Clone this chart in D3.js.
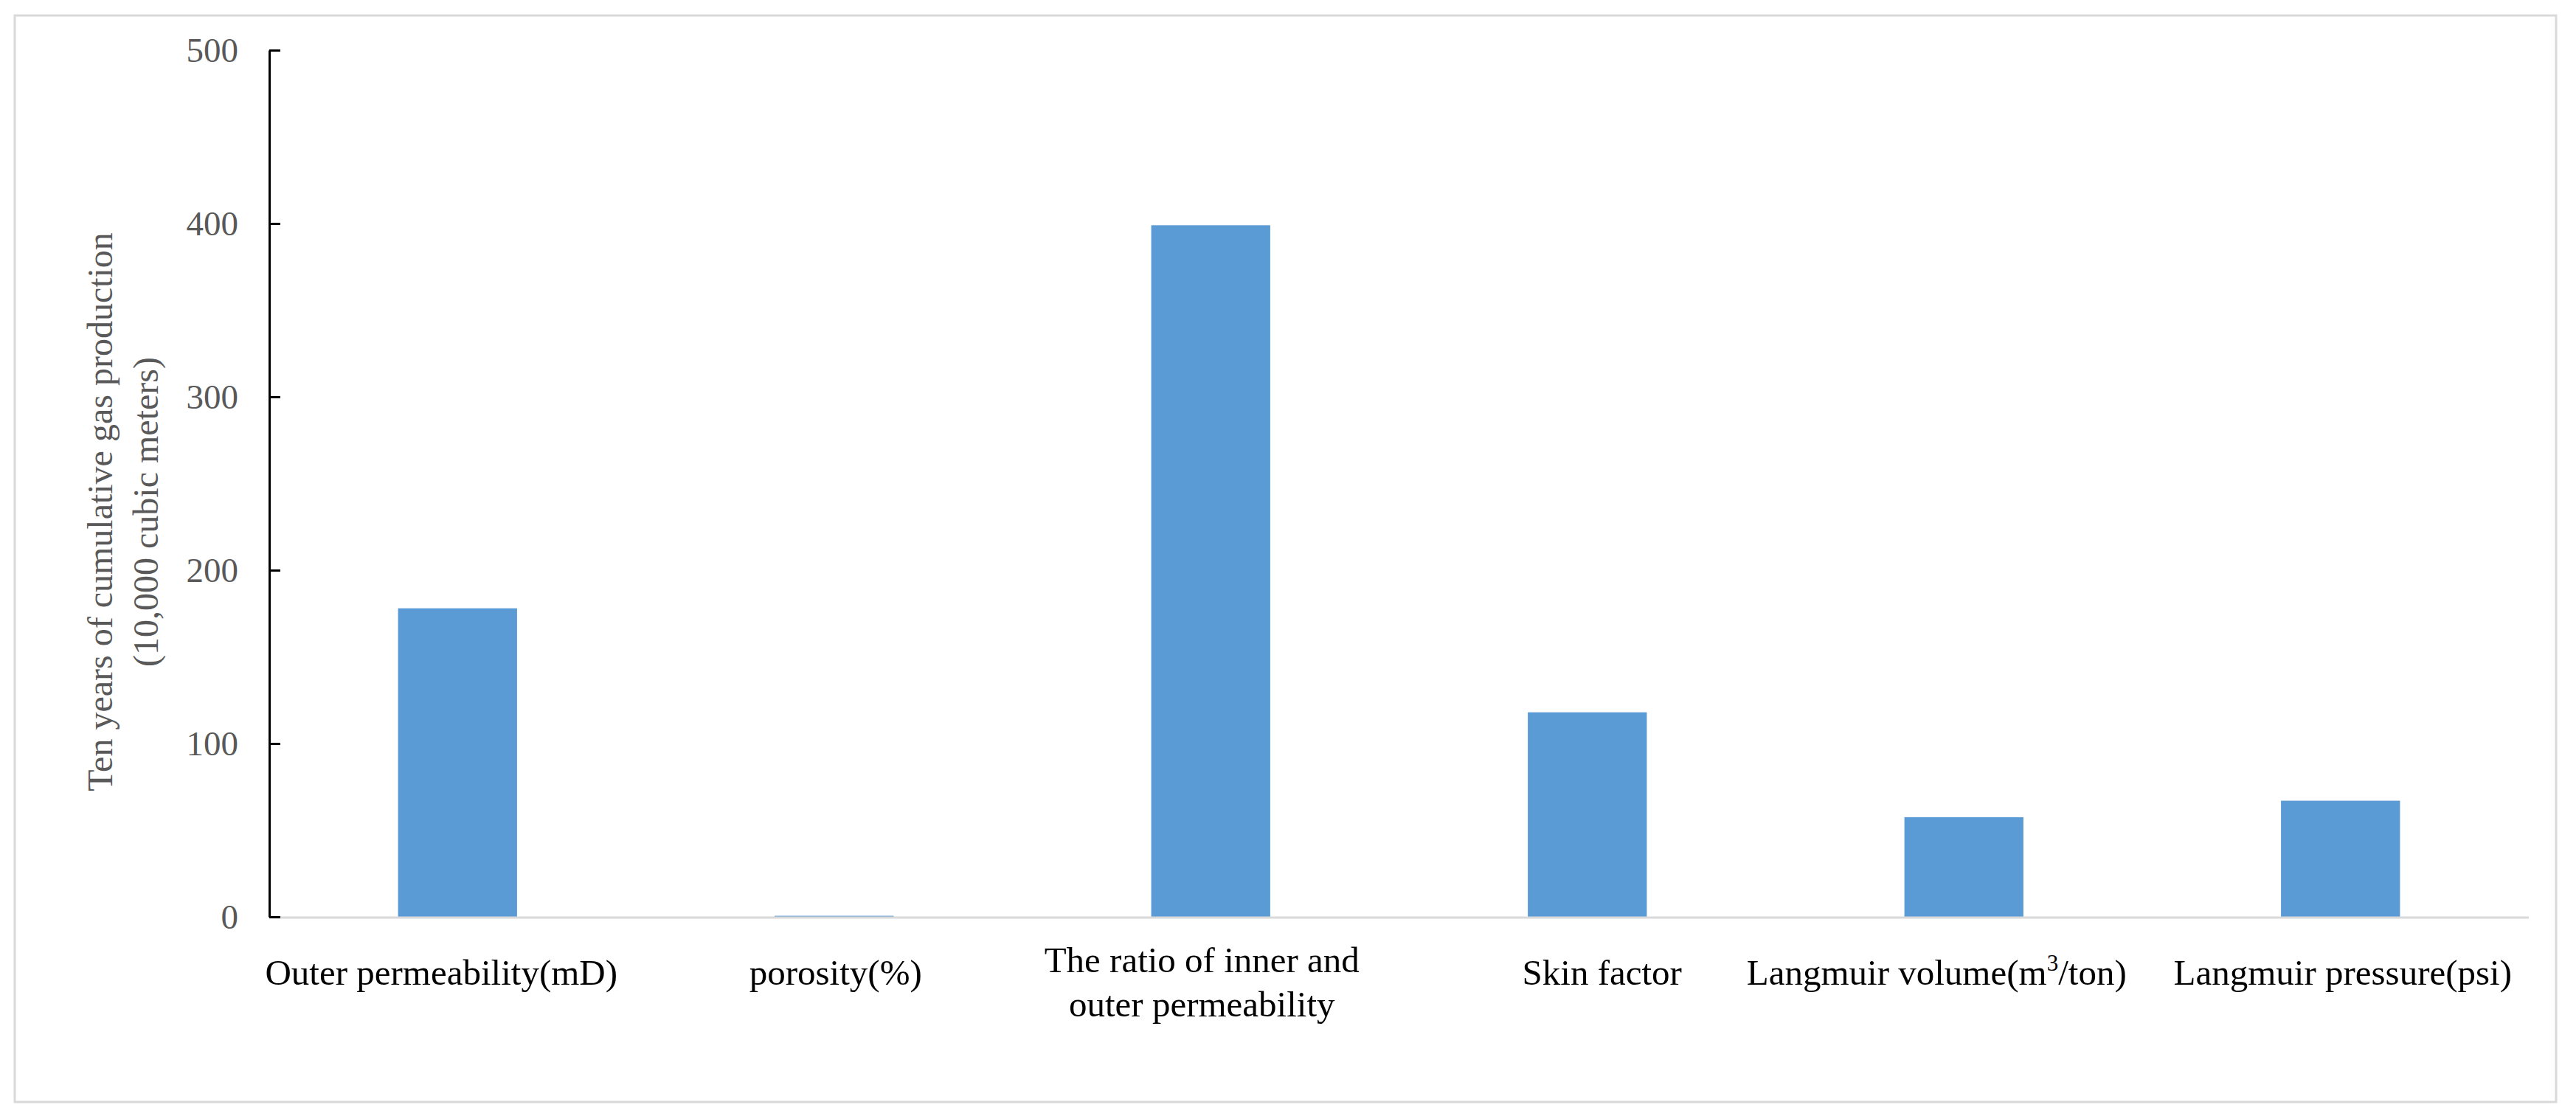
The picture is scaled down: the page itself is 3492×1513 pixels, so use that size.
<!DOCTYPE html>
<html>
<head>
<meta charset="utf-8">
<script src="https://cdn.jsdelivr.net/npm/d3@7"></script>
<style>
  html, body { margin: 0; padding: 0; background: #fff; }
  svg text { font-family: "Liberation Serif", "Times New Roman", serif; }
</style>
</head>
<body>
<svg id="chart"></svg>
<script>
// ---------------- data ----------------
var categories = [
  ["Outer permeability(mD)"],
  ["porosity(%)"],
  ["The ratio of inner and", "outer permeability"],
  ["Skin factor"],
  ["Langmuir volume(m", "3", "/ton)"],
  ["Langmuir pressure(psi)"]
];
var production = [178, 0.6, 399, 118, 57.5, 67];
var yTicks = [0, 100, 200, 300, 400, 500];
var yTitle = ["Ten years of cumulative gas production", "(10,000 cubic meters)"];

// ---------------- layout ----------------
var W = 3492, H = 1513;
var plotL = 365, plotR = 3428, plotT = 68, plotB = 1243;
// excel nudges some category labels off the band centre
var labelShift = [-22, 2, -12, 20, -37, 3];

var svg = d3.select('#chart').attr('width', W).attr('height', H);

// outer chart frame
svg.append('rect')
  .attr('x', 20).attr('y', 21)
  .attr('width', 3445).attr('height', 1473)
  .attr('fill', '#fff')
  .attr('stroke', '#d9d9d9').attr('stroke-width', 3);

var x = d3.scaleBand()
  .domain(d3.range(categories.length))
  .range([plotL, plotR])
  .paddingInner(0.684)
  .paddingOuter(0.342);

var y = d3.scaleLinear().domain([0, 500]).range([plotB, plotT]);

// bars
svg.selectAll('rect.bar')
  .data(production)
  .enter()
  .append('rect')
  .attr('class', 'bar')
  .attr('x', (d, i) => x(i))
  .attr('width', x.bandwidth())
  .attr('y', d => y(d))
  .attr('height', d => y(0) - y(d))
  .attr('fill', '#5b9bd5');

// x axis line (gray)
svg.append('line')
  .attr('x1', plotL).attr('x2', plotR)
  .attr('y1', y(0) + 1).attr('y2', y(0) + 1)
  .attr('stroke', '#d9d9d9').attr('stroke-width', 3);

// y axis, ticks pointing into the plot
var yAxis = svg.append('g')
  .attr('transform', 'translate(' + plotL + ',0)')
  .call(d3.axisLeft(y).tickValues(yTicks).tickSize(-15).tickSizeOuter(0).tickPadding(42));

yAxis.select('.domain').attr('stroke', '#000').attr('stroke-width', 3);
yAxis.selectAll('.tick line').attr('stroke', '#000').attr('stroke-width', 3);
yAxis.selectAll('.tick text')
  .attr('font-size', 47)
  .attr('fill', '#595959')
  .attr('font-family', '"Liberation Serif", "Times New Roman", serif');

// y title
var tt = svg.append('text')
  .attr('transform', 'translate(0,694) rotate(-90)')
  .attr('text-anchor', 'middle')
  .attr('font-size', 48)
  .attr('fill', '#595959');
tt.append('tspan').attr('x', 0).attr('y', 152).text(yTitle[0]);
tt.append('tspan').attr('x', 0).attr('y', 214).text(yTitle[1]);

// category labels
categories.forEach(function (c, i) {
  var cx = x(i) + x.bandwidth() / 2 + labelShift[i];
  var t = svg.append('text')
    .attr('text-anchor', 'middle')
    .attr('font-size', 49)
    .attr('fill', '#000');
  if (c.length === 2) {
    t.append('tspan').attr('x', cx).attr('y', 1318).text(c[0]);
    t.append('tspan').attr('x', cx).attr('y', 1378).text(c[1]);
  } else if (c.length === 3) {
    t.attr('x', cx).attr('y', 1335);
    t.append('tspan').text(c[0]);
    t.append('tspan').attr('font-size', 31).attr('dy', -19).text(c[1]);
    t.append('tspan').attr('dy', 19).text(c[2]);
  } else {
    t.attr('x', cx).attr('y', 1335).text(c[0]);
  }
});
</script>
</body>
</html>
